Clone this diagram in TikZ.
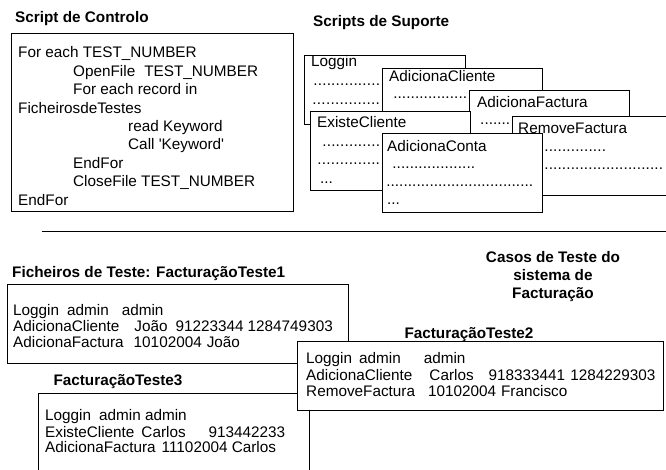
\documentclass[tikz,border=0pt]{standalone}
\usepackage{fontspec}
\setmainfont{Liberation Sans}
\newcommand\fs{\fontsize{15.3}{18}\selectfont}
% a row of dot leaders of a given width
\newcommand\dotrow[1]{\hbox to #1pt{\xleaders\hbox{.}\hfill}}
\tikzset{
  box/.style={draw=black, line width=1pt, fill=white},
  txt/.style={anchor=base west, inner sep=0pt, font=\fs},
  ttl/.style={anchor=base west, inner sep=0pt, font=\fs\bfseries},
  ttlc/.style={anchor=base, inner sep=0pt, font=\fs\bfseries},
  rule/.style={draw=black, line width=1pt},
}
\begin{document}
\begin{tikzpicture}[x=1pt, y=-1pt]
\useasboundingbox (0,0) rectangle (666,470);
\clip (0,0) rectangle (666,470);
\fill[white] (0,0) rectangle (666,470);

% ---- control script ----
\node[ttl] (tctl) at (15,23) {Script de Controlo};
\draw[box] (11,34) rectangle (293,212);
\node[txt] (c1) at (18,58)    {For each TEST\_NUMBER};
\node[txt] (c2) at (73,76.4)  {OpenFile\hspace{9pt}TEST\_NUMBER};
\node[txt] (c3) at (73,94.8)  {For each record in};
\node[txt] (c4) at (18,113.2) {FicheirosdeTestes};
\node[txt] (c5) at (128,131.6){read Keyword};
\node[txt] (c6) at (128,150)  {Call \textquotesingle Keyword\textquotesingle};
\node[txt] (c7) at (73,168.4) {EndFor};
\node[txt] (c8) at (73,186.8) {CloseFile TEST\_NUMBER};
\node[txt] (c9) at (18,205.2) {EndFor};

% ---- support scripts (stacked sheets, later ones on top) ----
\node[ttl] (tsup) at (313,27) {Scripts de Suporte};

\draw[box] (304,56) rectangle (465,125);
\node[txt] (lg) at (311,67) {Loggin};
\node[txt] (lgd1) at (313,86) {\dotrow{67}};
\node[txt] (lgd2) at (312,105) {\dotrow{68}};

\draw[box] (382,69) rectangle (542,160);
\node[txt] (ac) at (389,82) {AdicionaCliente};
\node[txt] (acd1) at (393,99) {\dotrow{74}};

\draw[box] (469,91) rectangle (629,160);
\node[txt] (af) at (477,108) {AdicionaFactura};
\node[txt] (afd1) at (480,125) {\dotrow{30}};

\path[box] (670,117) -- (512,117) -- (512,196) -- (670,196);
\node[txt] (rf) at (518,134) {RemoveFactura};
\node[txt] (rfd1) at (544,152) {\dotrow{62}};
\node[txt] (rfd2) at (544,170) {\dotrow{119}};

\draw[box] (310,112) rectangle (470,191);
\node[txt] (ec) at (317,128) {ExisteCliente};
\node[txt] (ecd1) at (322,146.5) {\dotrow{58}};
\node[txt] (ecd2) at (317,165) {\dotrow{63}};
\node[txt] (ecd3) at (320,183.5) {...};

\draw[box] (382,134) rectangle (542,213);
\node[txt] (co) at (387,152) {AdicionaConta};
\node[txt] (cod1) at (392,169) {\dotrow{83}};
\node[txt] (cod2) at (386,187) {\dotrow{147}};
\node[txt] (cod3) at (387,205) {...};

% ---- separator ----
\draw[rule] (42,232) -- (666,232);

% ---- test cases ----
\node[ttlc] (casos1) at (553,262) {Casos de Teste do};
\node[ttlc] (casos2) at (553,280) {sistema de};
\node[ttlc] (casos3) at (553,298) {Facturação};

\node[ttl] (tf1) at (12,277) {Ficheiros de Teste: FacturaçãoTeste1};
\draw[box] (7,284) rectangle (348,363);
\node[txt] (f1a) at (13,315) {Loggin\hspace{8pt}admin\hspace{13pt}admin};
\node[txt] (f1b) at (13,331) {AdicionaCliente\hspace{15pt}João\hspace{8pt}91223344\hspace{4pt}1284749303};
\node[txt] (f1c) at (13,347) {AdicionaFactura\hspace{10pt}10102004\hspace{5pt}João};

\node[ttlc] (tf3) at (118,385) {FacturaçãoTeste3};
\draw[box] (38,393) rectangle (309,480);
\node[txt] (f3a) at (45,420) {Loggin\hspace{8pt}admin admin};
\node[txt] (f3b) at (45,437) {ExisteCliente\hspace{7pt}Carlos\hspace{23pt}913442233};
\node[txt] (f3c) at (45,452) {AdicionaFactura\hspace{6pt}11102004 Carlos};

\node[ttlc] (tf2) at (469,338) {FacturaçãoTeste2};
\draw[box] (297,341) rectangle (663,410);
\node[txt] (f2a) at (306,363) {Loggin\hspace{7pt}admin\hspace{23pt}admin};
\node[txt] (f2b) at (306,380) {AdicionaCliente\hspace{17pt}Carlos\hspace{15pt}918333441\hspace{5pt}1284229303};
\node[txt] (f2c) at (306,396) {RemoveFactura\hspace{13pt}10102004\hspace{5pt}Francisco};
\end{tikzpicture}
\end{document}
